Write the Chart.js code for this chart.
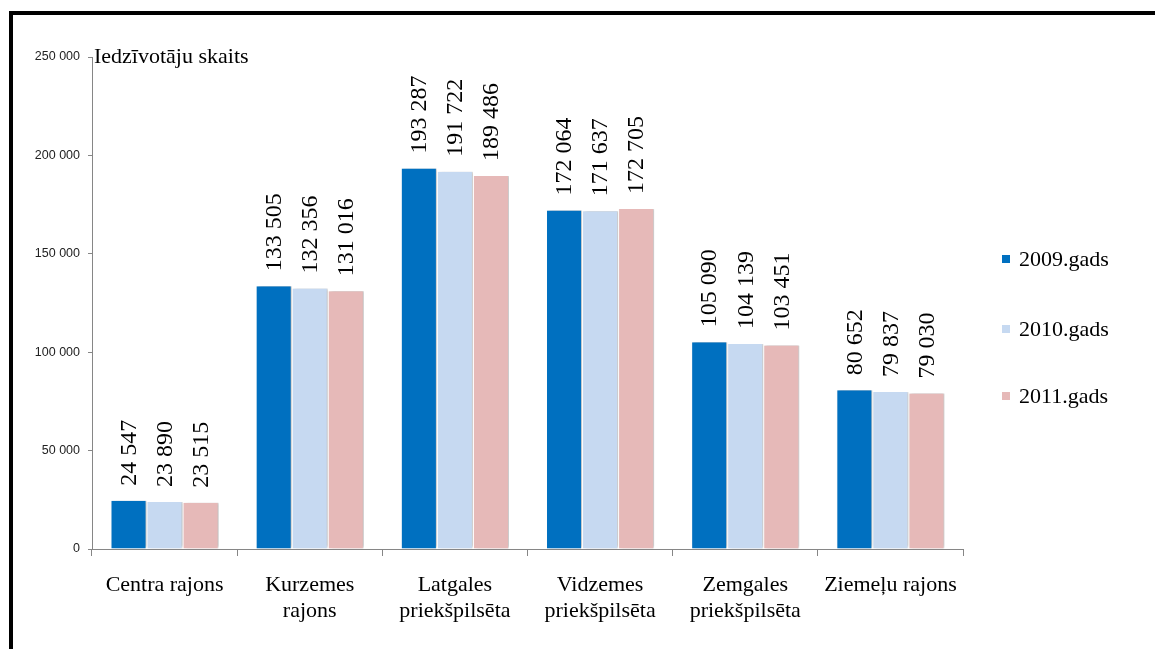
<!DOCTYPE html>
<html>
<head>
<meta charset="utf-8">
<script src="https://cdn.jsdelivr.net/npm/chart.js@4.4.1/dist/chart.umd.min.js"></script>
<style>
  html, body { margin: 0; padding: 0; background: #fff; }
  #wrap { position: relative; width: 1155px; height: 649px; overflow: hidden; }
  #frame { position: absolute; left: 9px; top: 11px; right: -10px; bottom: -10px;
           border-left: 4px solid #000; border-top: 4px solid #000; pointer-events: none; }
  canvas { position: absolute; left: 0; top: 0; }
</style>
</head>
<body>
<div id="wrap">
  <canvas id="c" width="1155" height="649"></canvas>
  <div id="frame"></div>
</div>
<script>
const categories = [
  ["Centra rajons"],
  ["Kurzemes", "rajons"],
  ["Latgales", "priekšpilsēta"],
  ["Vidzemes", "priekšpilsēta"],
  ["Zemgales", "priekšpilsēta"],
  ["Ziemeļu rajons"]
];
const seriesNames = ["2009.gads", "2010.gads", "2011.gads"];
const values2009 = [24547, 133505, 193287, 172064, 105090, 80652];
const values2010 = [23890, 132356, 191722, 171637, 104139, 79837];
const values2011 = [23515, 131016, 189486, 172705, 103451, 79030];
const seriesColors = ["#0070C0", "#C6D9F1", "#E6B9B8"];
const yAxisTitle = "Iedzīvotāju skaits";
const yMax = 250000;
const yStep = 50000;

function fmt(n) {
  return String(n).replace(/\B(?=(\d{3})+(?!\d))/g, " ");
}

const serif = "'Liberation Serif', 'Times New Roman', serif";

const barShadow = {
  id: 'barShadow',
  beforeDatasetDraw(chart) {
    const ctx = chart.ctx;
    ctx.save();
    ctx.shadowColor = 'rgba(0,0,0,0.28)';
    ctx.shadowBlur = 3;
    ctx.shadowOffsetX = 2;
    ctx.shadowOffsetY = -1;
  },
  afterDatasetDraw(chart) {
    chart.ctx.restore();
  }
};

const valueLabels = {
  id: 'valueLabels',
  afterDatasetsDraw(chart) {
    const ctx = chart.ctx;
    ctx.save();
    ctx.font = "24px " + serif;
    ctx.fillStyle = "#000";
    ctx.textAlign = "left";
    ctx.textBaseline = "middle";
    chart.data.datasets.forEach((ds, di) => {
      const meta = chart.getDatasetMeta(di);
      meta.data.forEach((bar, i) => {
        ctx.save();
        ctx.translate(bar.x + 1, bar.y - 15);
        ctx.rotate(-Math.PI / 2);
        ctx.fillText(fmt(ds.data[i]), 0, 0);
        ctx.restore();
      });
    });
    ctx.restore();
  }
};

const extras = {
  id: 'extras',
  afterDraw(chart) {
    const ctx = chart.ctx;
    const y = chart.scales.y;
    ctx.save();
    ctx.font = "22px " + serif;
    ctx.fillStyle = "#000";
    ctx.textAlign = "left";
    ctx.textBaseline = "alphabetic";
    ctx.fillText(yAxisTitle, chart.chartArea.left + 2, y.getPixelForValue(yMax) + 6);
    const legendY = [259, 329, 396];
    chart.data.datasets.forEach((ds, i) => {
      ctx.fillStyle = ds.backgroundColor;
      ctx.fillRect(1002, legendY[i] - 4, 8, 8);
      ctx.fillStyle = "#000";
      ctx.textBaseline = "middle";
      ctx.fillText(ds.label, 1019, legendY[i] + 1);
    });
    ctx.restore();
  }
};

const datasets = [values2009, values2010, values2011].map((vals, i) => ({
  label: seriesNames[i],
  data: vals,
  backgroundColor: seriesColors[i],
  borderColor: "#ffffff",
  borderWidth: { left: 1, right: 1, top: 0, bottom: 0 },
  borderSkipped: false,
  categoryPercentage: 0.745,
  barPercentage: 1.0
}));

new Chart(document.getElementById('c'), {
  type: 'bar',
  data: { labels: categories, datasets },
  options: {
    responsive: false,
    animation: false,
    devicePixelRatio: 1,
    layout: { padding: { left: 0, top: 57, right: 192, bottom: 0 } },
    plugins: {
      legend: { display: false },
      tooltip: { enabled: false },
      title: { display: false }
    },
    scales: {
      x: {
        grid: {
          display: true,
          drawOnChartArea: false,
          drawTicks: true,
          tickLength: 7,
          color: "#868686",
          offset: true
        },
        border: { display: true, color: "#868686", width: 1 },
        ticks: {
          font: { family: serif, size: 22, lineHeight: 1.18 },
          color: "#000",
          padding: 16,
          maxRotation: 0,
          autoSkip: false
        },
        afterFit(scale) { scale.height = 100; }
      },
      y: {
        min: 0,
        max: yMax,
        grid: {
          display: true,
          drawOnChartArea: false,
          drawTicks: true,
          tickLength: 4,
          color: "#868686"
        },
        border: { display: true, color: "#868686", width: 1 },
        ticks: {
          stepSize: yStep,
          font: { family: "'Liberation Sans', Arial, sans-serif", size: 12.5 },
          color: "#222",
          padding: 8,
          callback: (v) => fmt(v)
        },
        afterFit(scale) { scale.width = 92; }
      }
    }
  },
  plugins: [barShadow, valueLabels, extras]
});
</script>
</body>
</html>
